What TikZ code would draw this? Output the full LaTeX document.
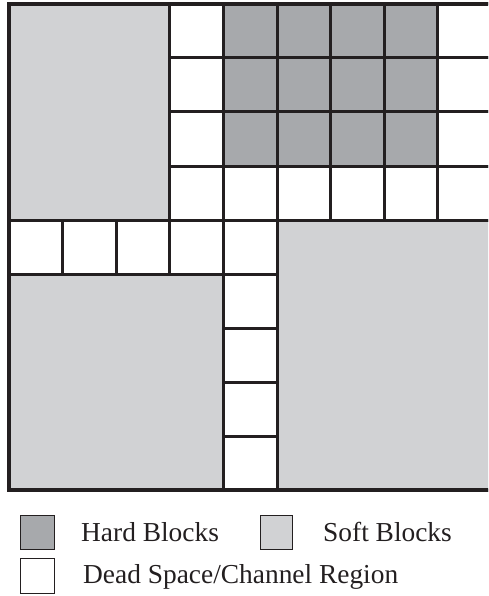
\documentclass[tikz,border=0pt]{standalone}
\usepackage{fontspec}
\setmainfont{Liberation Serif}
\definecolor{softc}{HTML}{D1D2D4}
\definecolor{hardc}{HTML}{A7A9AC}
\definecolor{linec}{HTML}{231F20}
\begin{document}
\begin{tikzpicture}[x=1pt,y=-1pt,
  cell/.style={draw=linec,line width=3pt},
  soft/.style={cell,fill=softc},
  hard/.style={cell,fill=hardc},
  dead/.style={cell,fill=white},
  swatch/.style={draw=linec,line width=0.9pt},
  legtext/.style={anchor=base west,inner sep=0pt,text=linec,font=\fontsize{27.4}{30}\selectfont}]
\useasboundingbox (0,0) rectangle (488,596);
\fill[white] (0,0) rectangle (488,596);
\def\X#1{(9+#1*53.6)}
\def\Y#1{(4+#1*54)}
\begin{scope}
\clip (0,0) rectangle (488,596);
% soft blocks
\draw[soft] ({9},{4}) rectangle ({9+3*53.6},{4+4*54});
\draw[soft] ({9},{4+5*54}) rectangle ({9+4*53.6},{4+9*54});
\draw[soft] ({9+5*53.6},{4+4*54}) rectangle ({9+9*53.6},{4+9*54});
% hard blocks
\foreach \i in {4,...,7}{
  \foreach \j in {0,1,2}{
    \draw[hard] ({9+\i*53.6},{4+\j*54}) rectangle ({9+(\i+1)*53.6},{4+(\j+1)*54});
  }
}
% dead space cells
\foreach \j in {0,...,3}{
  \draw[dead] ({9+3*53.6},{4+\j*54}) rectangle ({9+4*53.6},{4+(\j+1)*54});
}
\foreach \j in {0,1,2}{
  \draw[dead] ({9+8*53.6},{4+\j*54}) rectangle ({9+9*53.6},{4+(\j+1)*54});
}
\foreach \i in {4,...,8}{
  \draw[dead] ({9+\i*53.6},{4+3*54}) rectangle ({9+(\i+1)*53.6},{4+4*54});
}
\foreach \i in {0,...,4}{
  \draw[dead] ({9+\i*53.6},{4+4*54}) rectangle ({9+(\i+1)*53.6},{4+5*54});
}
\foreach \j in {5,...,8}{
  \draw[dead] ({9+4*53.6},{4+\j*54}) rectangle ({9+5*53.6},{4+(\j+1)*54});
}
% outer border
\draw[draw=linec,line width=4pt] ({9},{4}) rectangle ({9+9*53.6},{4+9*54});
\end{scope}
% legend
\draw[swatch,fill=hardc] (20,515) rectangle (54,549);
\node[legtext] (hardlbl) at (81,541) {Hard Blocks};
\draw[swatch,fill=softc] (260,515) rectangle (292,549);
\node[legtext] (softlbl) at (323,541) {Soft Blocks};
\draw[swatch,fill=white] (20,558) rectangle (54,593);
\node[legtext] (deadlbl) at (83,583) {Dead Space/Channel Region};
\end{tikzpicture}
\end{document}
